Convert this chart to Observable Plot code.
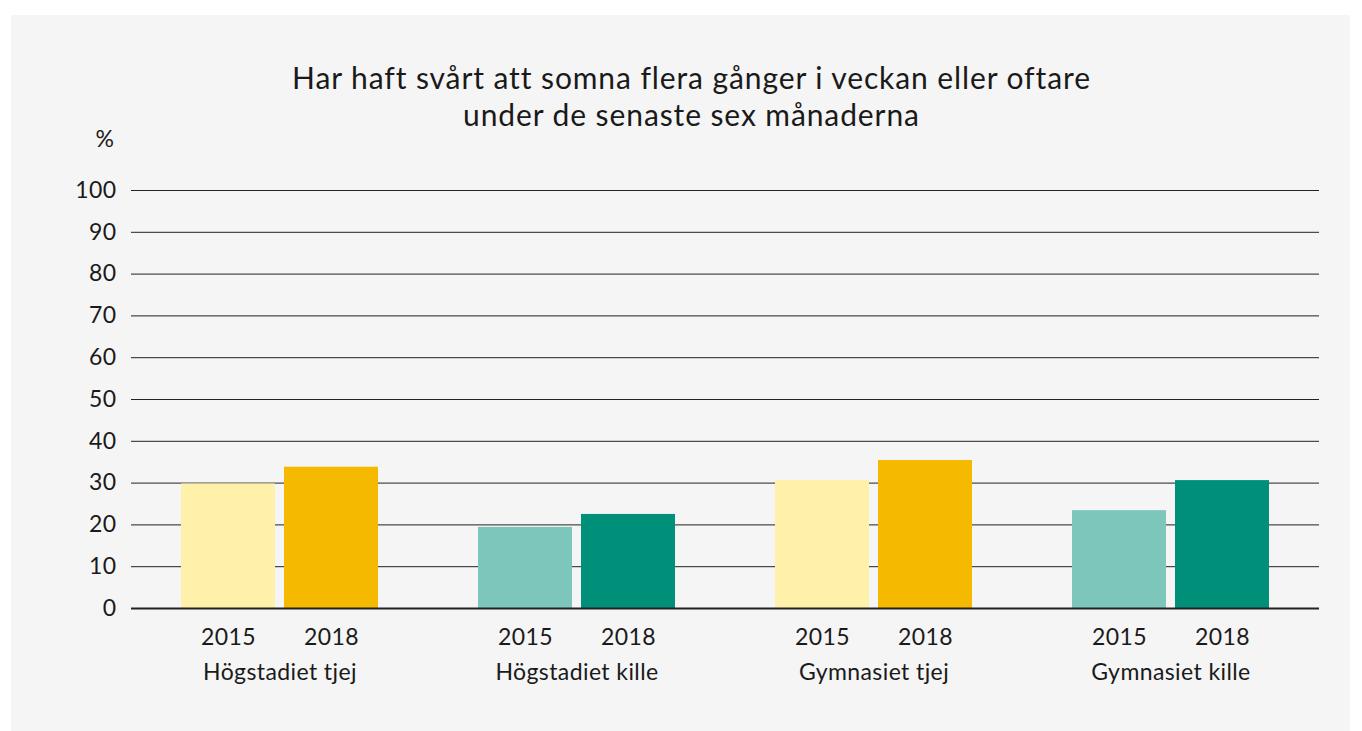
<!DOCTYPE html>
<html>
<head>
<meta charset="utf-8">
<script src="https://cdn.jsdelivr.net/npm/d3@7"></script>
<script src="https://cdn.jsdelivr.net/npm/@observablehq/plot@0.6"></script>
<style>
  html, body { margin: 0; padding: 0; background: #ffffff; }
  body { width: 1362px; height: 731px; position: relative; overflow: hidden; font-family: Lato, "Open Sans", sans-serif; color: #1a1a1a; }
  #panel { position: absolute; left: 11px; top: 15px; width: 1339px; height: 716px; background: #f5f5f5; }
  #title { position: absolute; left: 0; top: 59px; width: 1383px; text-align: center; font-size: 30px; letter-spacing: 0.9px; line-height: 37px; color: #1a1a1a; }
  #unit { position: absolute; left: 60px; width: 54px; text-align: right; top: 125px; font-size: 23px; line-height: 26px; color: #1a1a1a; }
  #chart { position: absolute; left: 0; top: 150px; }
  #chart svg text { letter-spacing: 0.4px; }
</style>
</head>
<body>
<div id="panel"></div>
<div id="title">Har haft svårt att somna flera gånger i veckan eller oftare<br>under de senaste sex månaderna</div>
<div id="unit">%</div>
<div id="chart"></div>
<script>
const groups = ["Högstadiet tjej", "Högstadiet kille", "Gymnasiet tjej", "Gymnasiet kille"];
const years = ["2015", "2018"];
const values2015 = [29.8, 19.4, 30.6, 23.4];
const values2018 = [33.8, 22.5, 35.4, 30.6];
const yTicks = [0, 10, 20, 30, 40, 50, 60, 70, 80, 90, 100];

const colorKeys = ["tjej 2015", "tjej 2018", "kille 2015", "kille 2018"];
const palette = ["#fff0aa", "#f5b900", "#7dc6bc", "#00907a"];

const data = [];
groups.forEach((g, i) => {
  const kind = g.endsWith("tjej") ? "tjej" : "kille";
  data.push({group: g, year: "2015", value: values2015[i], key: kind + " 2015"});
  data.push({group: g, year: "2018", value: values2018[i], key: kind + " 2018"});
});

const chart = Plot.plot({
  width: 1362,
  height: 560,
  marginLeft: 129,
  marginRight: 42,
  marginTop: 40,
  marginBottom: 102,
  style: {background: "transparent", fontFamily: "Lato, 'Open Sans', sans-serif", fontSize: "23px", color: "#1a1a1a"},
  fx: {domain: groups, padding: 0, label: null},
  x: {domain: years, paddingInner: 0.087, paddingOuter: 0.475, label: null},
  y: {domain: [0, 100], label: null},
  color: {domain: colorKeys, range: palette},
  marks: [
    Plot.gridY(yTicks, {stroke: "#222", strokeOpacity: 1, strokeWidth: 1}),
    Plot.barY(data, {fx: "group", x: "year", y: "value", fill: "key"}),
    Plot.ruleY([0], {stroke: "#222", strokeWidth: 2}),
    Plot.axisY(yTicks, {tickSize: 0, tickPadding: 15, label: null}),
    Plot.axisX({tickSize: 0, tickPadding: 20, label: null}),
    Plot.axisFx({anchor: "bottom", tickSize: 0, tickPadding: 55, label: null})
  ]
});
document.getElementById("chart").appendChild(chart);
</script>
</body>
</html>
